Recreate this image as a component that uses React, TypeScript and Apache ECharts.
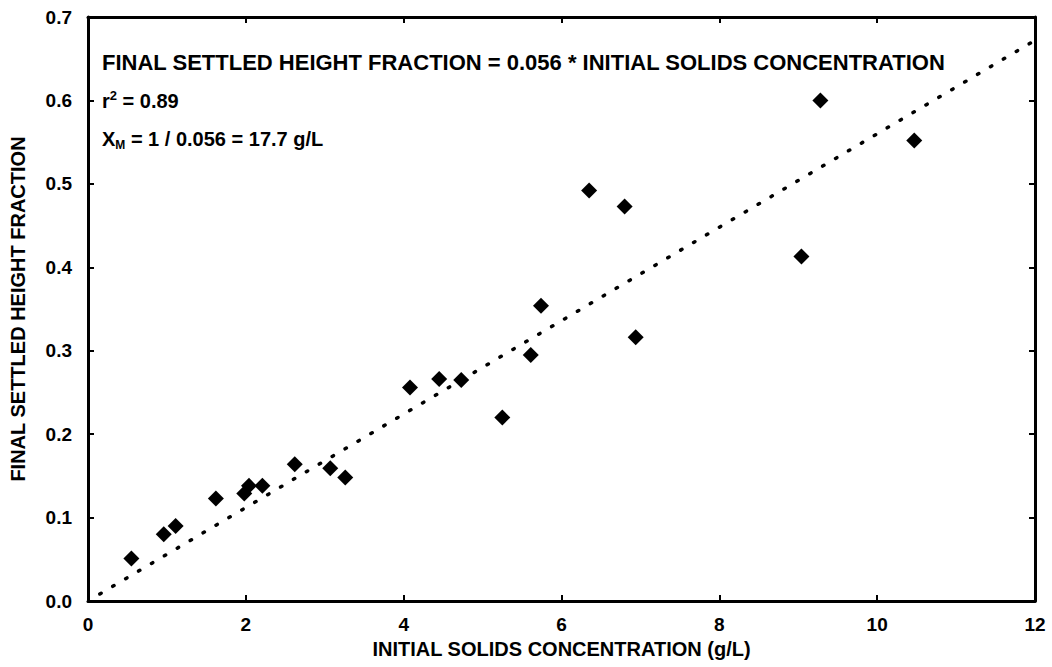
import React, { useEffect, useRef } from "react";
import * as echarts from "echarts";

const concentration = [0.55, 0.96, 1.11, 1.62, 1.98, 2.04, 2.21, 2.62, 3.07, 3.26, 4.08, 4.45, 4.73, 5.25, 5.61, 5.74, 6.35, 6.8, 6.94, 9.04, 9.28, 10.47];
const heightFraction = [0.051, 0.08, 0.09, 0.123, 0.129, 0.138, 0.138, 0.164, 0.159, 0.148, 0.256, 0.266, 0.265, 0.22, 0.295, 0.354, 0.492, 0.473, 0.316, 0.413, 0.6, 0.552];
const slope = 0.056;
const trendX = [0.15, 12];
const xTitle = "INITIAL SOLIDS CONCENTRATION (g/L)";
const yTitle = "FINAL SETTLED HEIGHT FRACTION";
const equationText = "FINAL SETTLED HEIGHT FRACTION = 0.056 * INITIAL SOLIDS CONCENTRATION";

const FONT = "Liberation Sans";

export default function App() {
  const ref = useRef<HTMLDivElement>(null);
  useEffect(() => {
    if (!ref.current) return;
    const chart = echarts.init(ref.current, null, { renderer: "svg" });
    const points = concentration.map((x, i) => [x, heightFraction[i]]);
    const trend = trendX.map((x) => [x, slope * x]);
    const axisLineStyle = { color: "#000", width: 3 };
    const tickStyle = { show: true, inside: true, length: 6, lineStyle: { color: "#000", width: 2 } };
    const labelStyle = { color: "#000", fontFamily: FONT, fontWeight: "bold" as const, fontSize: 19 };
    const titleStyle = { color: "#000", fontFamily: FONT, fontWeight: "bold" as const, fontSize: 20 };
    chart.setOption({
      animation: false,
      backgroundColor: "#fff",
      grid: { left: 85, right: 17, top: 17, bottom: 66 },
      xAxis: [
        {
          type: "value",
          min: 0,
          max: 12,
          interval: 2,
          position: "bottom",
          splitLine: { show: false },
          axisLine: { show: true, onZero: false, lineStyle: axisLineStyle },
          axisTick: tickStyle,
          axisLabel: { ...labelStyle, margin: 14 },
          name: xTitle,
          nameLocation: "middle",
          nameGap: 38,
          nameTextStyle: titleStyle,
        },
        {
          type: "value",
          min: 0,
          max: 12,
          interval: 2,
          position: "top",
          splitLine: { show: false },
          axisLine: { show: true, onZero: false, lineStyle: axisLineStyle },
          axisTick: tickStyle,
          axisLabel: { show: false },
        },
      ],
      yAxis: [
        {
          type: "value",
          min: 0,
          max: 0.7,
          interval: 0.1,
          position: "left",
          splitLine: { show: false },
          axisLine: { show: true, onZero: false, lineStyle: axisLineStyle },
          axisTick: tickStyle,
          axisLabel: { ...labelStyle, margin: 16, formatter: (v: number) => v.toFixed(1) },
          name: yTitle,
          nameLocation: "middle",
          nameGap: 60,
          nameTextStyle: titleStyle,
        },
        {
          type: "value",
          min: 0,
          max: 0.7,
          interval: 0.1,
          position: "right",
          splitLine: { show: false },
          axisLine: { show: true, onZero: false, lineStyle: axisLineStyle },
          axisTick: tickStyle,
          axisLabel: { show: false },
        },
      ],
      series: [
        {
          type: "line",
          data: trend,
          showSymbol: false,
          symbol: "none",
          lineStyle: { color: "#000", width: 3.5, type: [1.5, 13.5], cap: "round" },
          z: 2,
        },
        {
          type: "scatter",
          data: points,
          symbol: "diamond",
          symbolSize: [16, 16],
          itemStyle: { color: "#000", opacity: 1 },
          z: 3,
        },
      ],
      graphic: [
        {
          type: "text",
          left: 102,
          top: 51,
          style: { text: equationText, fill: "#000", font: `bold 22px "${FONT}"` },
        },
        {
          type: "text",
          left: 102,
          top: 89,
          style: {
            text: "{b|r}{sup|2}{b| = 0.89}",
            fill: "#000",
            rich: {
              b: { fontFamily: FONT, fontWeight: "bold", fontSize: 20, lineHeight: 24, fill: "#000" },
              sup: { fontFamily: FONT, fontWeight: "bold", fontSize: 13, lineHeight: 13, verticalAlign: "top", fill: "#000" },
            },
          },
        },
        {
          type: "text",
          left: 102,
          top: 129,
          style: {
            text: "{b|X}{sub|M}{b| = 1 / 0.056 = 17.7 g/L}",
            fill: "#000",
            rich: {
              b: { fontFamily: FONT, fontWeight: "bold", fontSize: 20, lineHeight: 24, fill: "#000" },
              sub: { fontFamily: FONT, fontWeight: "bold", fontSize: 12, lineHeight: 12, verticalAlign: "bottom", fill: "#000" },
            },
          },
        },
      ],
    });
    return () => chart.dispose();
  }, []);
  return <div ref={ref} style={{ width: 1052, height: 667, position: "absolute", left: 0, top: 0 }} />;
}
